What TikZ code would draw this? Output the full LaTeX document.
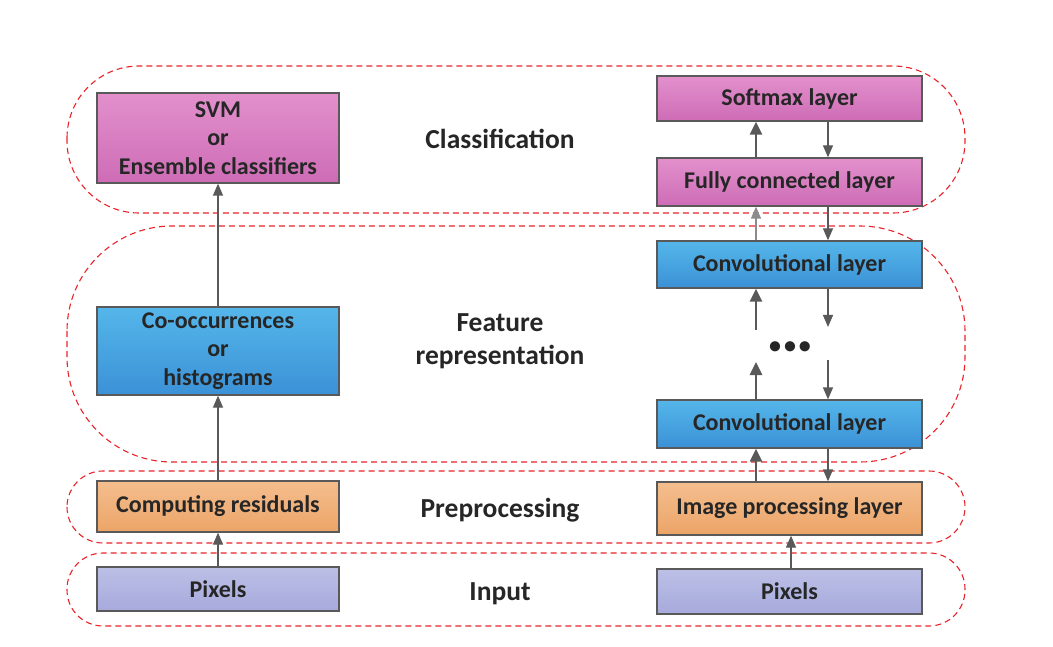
\documentclass[tikz,border=0pt]{standalone}
\usepackage{fontspec}
\setmainfont{Carlito}
\usepackage[HTML]{xcolor}
\usepackage{tikz}
\usetikzlibrary{positioning, arrows, arrows.meta}

\definecolor{lyrline}{HTML}{595959}
\definecolor{txt}{HTML}{262626}
\definecolor{grpred}{HTML}{E8232A}
\definecolor{clsTop}{HTML}{E290CC}
\definecolor{clsBot}{HTML}{CE6CB6}
\definecolor{featTop}{HTML}{55B6EA}
\definecolor{featBot}{HTML}{3B91D6}
\definecolor{preTop}{HTML}{F4BE8E}
\definecolor{preBot}{HTML}{ECA467}
\definecolor{inTop}{HTML}{BCC0E6}
\definecolor{inBot}{HTML}{A7AADB}

\tikzset{
  lyr/.style={draw=lyrline, line width=1.3pt, text=txt, align=center,
    font=\fontsize{24}{28.5}\selectfont\bfseries, inner sep=0pt},
  leftlyr/.style={lyr, minimum width=242pt},
  rightlyr/.style={lyr, minimum width=265pt},
  cls/.style={top color=clsTop, bottom color=clsBot},
  feat/.style={top color=featTop, bottom color=featBot},
  pre/.style={top color=preTop, bottom color=preBot},
  inp/.style={top color=inTop, bottom color=inBot},
  grp/.style={draw=grpred, line width=1.1pt, dash pattern=on 6pt off 4pt},
  stage/.style={text=txt, align=center, font=\fontsize{27.5}{33}\selectfont\bfseries},
  thinarr/.style={draw=lyrline, line width=1.3pt, -{Triangle[length=12pt,width=10pt]}},
  thickarr/.style={draw=lyrline, line width=2.6pt, -{Triangle[length=13pt,width=12pt]}},
}

\begin{document}
\begin{tikzpicture}[x=1pt, y=-1pt]
\useasboundingbox (0,0) rectangle (1053,647);

% stage groups
\draw[grp, rounded corners=72pt] (67,66) rectangle (965,213);
\draw[grp, rounded corners=105pt] (67,226) rectangle (965,462);
\draw[grp, rounded corners=36pt] (67,471) rectangle (965,543);
\draw[grp, rounded corners=36pt] (67,553) rectangle (965,626);

% stage labels
\node[stage] (lcls) at (500,139) {Classification};
\node[stage] (lfeat) at (500,341.5) {Feature\\representation};
\node[stage] (lpre) at (500,510) {Preprocessing};
\node[stage] (lin) at (500,594) {Input};

% conventional pipeline
\node[leftlyr, cls, minimum height=90pt] (svm) at (218,138) {SVM\\or\\Ensemble classifiers};
\node[leftlyr, feat, minimum height=88pt] (cooc) at (218,351) {Co-occurrences\\or\\histograms};
\node[leftlyr, pre, minimum height=51pt] (resid) at (218,506.5) {Computing residuals};
\node[leftlyr, inp, minimum height=44pt] (pixl) at (218,589) {Pixels};

\draw[thinarr] (pixl) -- (resid);
\draw[thinarr] (resid) -- (cooc);
\draw[thinarr] (cooc) -- (svm);

% CNN pipeline
\node[rightlyr, cls, minimum height=45pt] (soft) at (789.5,98.5) {Softmax layer};
\node[rightlyr, cls, minimum height=48pt] (fc) at (789.5,182) {Fully connected layer};
\node[rightlyr, feat, minimum height=47pt] (convt) at (789.5,264.5) {Convolutional layer};
\node[text=txt, font=\fontsize{24}{24}\selectfont\bfseries] (dots) at (790,348) {\textbullet\kern3pt\textbullet\kern3pt\textbullet};
\node[rightlyr, feat, minimum height=48pt] (convb) at (789.5,424) {Convolutional layer};
\node[rightlyr, pre, minimum height=53pt] (imgp) at (789.5,508.5) {Image processing layer};
\node[rightlyr, inp, minimum height=45pt] (pixr) at (789.5,591.5) {Pixels};

\coordinate (uplo) at (756,362);
\coordinate (uphi) at (756,330);
\coordinate (dnhi) at (828,327);
\coordinate (dnlo) at (828,360);

\draw[thinarr] ([xshift=1.5pt]pixr.north) -- ([xshift=1.5pt]imgp.south);
\draw[thickarr] ([xshift=-33.5pt]imgp.north) -- ([xshift=-33.5pt]convb.south);
\draw[thinarr] ([xshift=38.5pt]convb.south) -- ([xshift=38.5pt]imgp.north);
\draw[thickarr] ([xshift=-33.5pt]convb.north) -- (uplo);
\draw[thinarr] (dnlo) -- ([xshift=38.5pt]convb.north);
\draw[thickarr] (uphi) -- ([xshift=-33.5pt]convt.south);
\draw[thinarr] ([xshift=38.5pt]convt.south) -- (dnhi);
\draw[thinarr, draw=lyrline!70] ([xshift=-33.5pt]convt.north) -- ([xshift=-33.5pt]fc.south);
\draw[thinarr] ([xshift=38.5pt]fc.south) -- ([xshift=38.5pt]convt.north);
\draw[thickarr] ([xshift=-33.5pt]fc.north) -- ([xshift=-33.5pt]soft.south);
\draw[thinarr] ([xshift=38.5pt]soft.south) -- ([xshift=38.5pt]fc.north);
\end{tikzpicture}
\end{document}
